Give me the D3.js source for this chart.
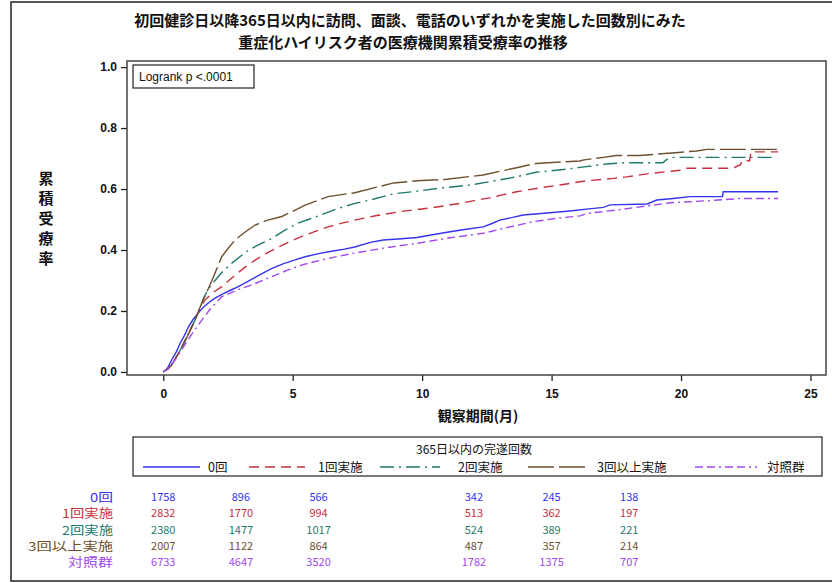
<!DOCTYPE html>
<html><head><meta charset="utf-8">
<script src="https://cdn.jsdelivr.net/npm/d3@7/dist/d3.min.js"></script>
<style>
body{margin:0;background:#fff;}
svg{display:block;}
</style></head>
<body>
<script>
// ---- data ----
const titleLines = ["初回健診日以降365日以内に訪問、面談、電話のいずれかを実施した回数別にみた","重症化ハイリスク者の医療機関累積受療率の推移"];
const groups = ["0回","1回実施","2回実施","3回以上実施","対照群"];
const xTicks = [0,5,10,15,20,25];
const yTicks = [0,0.2,0.4,0.6,0.8,1.0];
const series0 = [[0,0],[0.15,0.01],[0.33,0.04],[0.5,0.065],[0.66,0.095],[0.82,0.12],[0.98,0.149],[1.15,0.172],[1.35,0.193],[1.55,0.212],[1.74,0.226],[2.0,0.242],[2.3,0.256],[2.6,0.268],[2.9,0.28],[3.2,0.294],[3.5,0.308],[3.85,0.324],[4.2,0.34],[4.6,0.354],[5.0,0.365],[5.48,0.378],[6.0,0.388],[6.5,0.396],[7.0,0.403],[7.4,0.41],[8.0,0.425],[8.5,0.433],[9.2,0.437],[9.8,0.441],[10.4,0.45],[11.08,0.46],[11.7,0.468],[12.36,0.476],[12.7,0.487],[13.0,0.498],[13.5,0.507],[13.9,0.515],[14.94,0.522],[15.7,0.528],[16.36,0.534],[17.0,0.54],[17.26,0.548],[18.7,0.551],[19.06,0.564],[19.7,0.569],[20.35,0.575],[21.6,0.575],[21.63,0.591],[23.75,0.591]];
const series1 = [[0,0],[0.3,0.02],[0.66,0.072],[1.04,0.138],[1.2,0.165],[1.43,0.21],[1.6,0.235],[1.88,0.258],[2.26,0.28],[2.78,0.318],[3.15,0.343],[3.55,0.367],[4.0,0.39],[4.45,0.41],[4.95,0.43],[5.48,0.449],[5.9,0.462],[6.37,0.476],[6.9,0.488],[7.4,0.498],[8.25,0.513],[9.15,0.526],[10.4,0.539],[11.47,0.553],[12.0,0.562],[12.6,0.571],[13.1,0.581],[13.65,0.591],[14.56,0.604],[15.45,0.615],[16.1,0.624],[16.36,0.627],[17.4,0.635],[17.9,0.64],[18.8,0.651],[20.0,0.662],[20.2,0.668],[22.0,0.668],[22.3,0.68],[22.35,0.693],[22.65,0.693],[22.7,0.722],[23.75,0.722]];
const series2 = [[0,0],[0.3,0.02],[0.66,0.072],[1.04,0.138],[1.2,0.165],[1.43,0.214],[1.6,0.25],[1.81,0.28],[2.0,0.30],[2.3,0.33],[2.65,0.357],[3.3,0.40],[3.75,0.42],[4.2,0.438],[4.7,0.465],[5.2,0.488],[6.1,0.515],[6.7,0.535],[7.4,0.553],[8.0,0.564],[8.88,0.584],[9.8,0.593],[10.8,0.604],[11.85,0.613],[13.0,0.63],[13.65,0.64],[14.4,0.655],[15.45,0.664],[16.1,0.671],[17.1,0.682],[17.8,0.686],[19.3,0.686],[19.45,0.697],[19.7,0.704],[23.6,0.704]];
const series3 = [[0,0],[0.3,0.02],[0.66,0.07],[1.04,0.135],[1.2,0.165],[1.43,0.214],[1.62,0.25],[1.93,0.31],[2.26,0.378],[2.5,0.405],[2.78,0.433],[3.1,0.455],[3.55,0.482],[4.0,0.497],[4.58,0.51],[5.0,0.527],[5.48,0.547],[6.37,0.575],[7.4,0.588],[8.9,0.62],[9.8,0.627],[10.95,0.632],[12.36,0.646],[13.0,0.658],[13.65,0.67],[14.4,0.684],[16.1,0.692],[16.2,0.695],[17.0,0.704],[17.5,0.71],[18.4,0.71],[19.9,0.72],[20.6,0.725],[21.0,0.73],[23.9,0.73]];
const series4 = [[0,0],[0.2,0.01],[0.46,0.04],[0.8,0.085],[1.15,0.13],[1.49,0.17],[1.8,0.205],[2.26,0.247],[2.9,0.27],[3.55,0.29],[4.2,0.313],[4.8,0.334],[5.4,0.352],[6.1,0.367],[6.8,0.38],[7.4,0.39],[8.5,0.406],[9.8,0.422],[11.08,0.44],[12.36,0.455],[13.4,0.476],[14.3,0.493],[15.2,0.504],[16.1,0.512],[16.36,0.52],[17.5,0.531],[18.9,0.547],[19.6,0.555],[21.1,0.562],[22.3,0.569],[23.75,0.569]];
const riskTimes = [0,3,6,12,15,18];
const risk0 = [1758,896,566,342,245,138];
const risk1 = [2832,1770,994,513,362,197];
const risk2 = [2380,1477,1017,524,389,221];
const risk3 = [2007,1122,864,487,357,214];
const risk4 = [6733,4647,3520,1782,1375,707];

// ---- styles ----
const colors = ["#3434ee","#c8303e","#1f7a6c","#6e5030","#a146f2"];
const dashes = [null,"10,6","14,5,2,5","26,5","8,4,8,4,2,4"];
const labelWidths = [23,51,51,85,45];
const allSeries = [series0,series1,series2,series3,series4];
const allRisk = [risk0,risk1,risk2,risk3,risk4];
const jp = "'Noto Sans CJK JP','Noto Sans',sans-serif";

const W=832,H=583;
const svg = d3.select("body").append("svg").attr("width",W).attr("height",H);
svg.append("rect").attr("x",0).attr("y",0).attr("width",W).attr("height",H).attr("fill","#fff");
svg.append("rect").attr("x",11).attr("y",2).attr("width",W+10).attr("height",579)
  .attr("fill","none").attr("stroke","#222").attr("stroke-width",1.5);

const titleX = [410,403];
svg.selectAll("text.title").data(titleLines).enter().append("text")
  .attr("x",(d,i)=>titleX[i]).attr("y",(d,i)=>26+i*22).attr("text-anchor","middle")
  .attr("font-family",jp).attr("font-weight","bold").attr("font-size",15)
  .attr("fill","#111").text(d=>d);

const x = d3.scaleLinear().domain([-1.4,25.6]).range([127,826]);
const y = d3.scaleLinear().domain([-0.01,1.02]).range([375,61]);

const gx = svg.append("g").attr("transform","translate(0,375)")
  .call(d3.axisBottom(x).tickValues(xTicks).tickSize(6).tickPadding(8).tickFormat(d3.format("d")));
const gy = svg.append("g").attr("transform","translate(127,0)")
  .call(d3.axisLeft(y).tickValues(yTicks).tickSize(6).tickPadding(4).tickFormat(d3.format(".1f")));
[gx,gy].forEach(g=>{
  g.select(".domain").remove();
  g.selectAll("line").attr("stroke","#222").attr("stroke-width",1.3);
  g.selectAll("text").attr("font-family","'Liberation Sans',Arial,sans-serif")
   .attr("font-weight","bold").attr("font-size",12).attr("fill","#111");
});
svg.append("rect").attr("x",127).attr("y",61).attr("width",699).attr("height",314)
  .attr("fill","none").attr("stroke","#444").attr("stroke-width",1.5);

svg.append("rect").attr("x",133).attr("y",65).attr("width",121).attr("height",23)
  .attr("fill","#fff").attr("stroke","#222").attr("stroke-width",1.2);
svg.append("text").attr("x",139).attr("y",81).attr("font-family","'Liberation Sans',Arial,sans-serif")
  .attr("font-size",12).attr("fill","#111").text("Logrank p <.0001");

const line = d3.line().x(d=>x(d[0])).y(d=>y(d[1])).curve(d3.curveLinear);
allSeries.forEach((s,i)=>{
  svg.append("path").datum(s).attr("d",line).attr("fill","none")
    .attr("stroke",colors[i]).attr("stroke-width",1.4)
    .attr("stroke-dasharray",dashes[i]);
});

const ylab = "累積受療率".split("");
svg.selectAll("text.ylab").data(ylab).enter().append("text")
  .attr("x",46).attr("y",(d,i)=>184+i*20).attr("text-anchor","middle")
  .attr("font-family",jp).attr("font-weight","bold").attr("font-size",15).attr("fill","#111").text(d=>d);
svg.append("text").attr("x",478).attr("y",421).attr("text-anchor","middle")
  .attr("font-family",jp).attr("font-weight","bold").attr("font-size",14).attr("fill","#111").text("観察期間(月)");

svg.append("rect").attr("x",133).attr("y",437).attr("width",689).attr("height",39)
  .attr("fill","#fff").attr("stroke","#222").attr("stroke-width",1.2);
svg.append("text").attr("x",474).attr("y",453.5).attr("text-anchor","middle")
  .attr("font-family",jp).attr("font-size",12).attr("fill","#111").text("365日以内の完遂回数");
const legLine = [[143,200],[249,305],[380,440],[528,585],[695,757]];
const legText = [208,318,458,597,767];
groups.forEach((g,i)=>{
  svg.append("line").attr("x1",legLine[i][0]).attr("x2",legLine[i][1]).attr("y1",467).attr("y2",467)
    .attr("stroke",colors[i]).attr("stroke-width",1.4).attr("stroke-dasharray",dashes[i]);
  svg.append("text").attr("x",legText[i]).attr("y",472).attr("font-family",jp).attr("font-size",12.5)
    .attr("fill","#111").text(g);
});

const rowY = [497,513,530,546,562];
groups.forEach((g,i)=>{
  svg.append("text").attr("x",113).attr("y",rowY[i]+4.5).attr("text-anchor","end")
    .attr("font-family",jp).attr("font-size",12).attr("fill",colors[i])
    .attr("textLength",labelWidths[i]).attr("lengthAdjust","spacingAndGlyphs").text(g);
  svg.selectAll(null).data(riskTimes).enter().append("text")
    .attr("x",d=>x(d)).attr("y",rowY[i]+4).attr("text-anchor","middle")
    .attr("font-family",jp).attr("font-size",11).attr("fill",colors[i])
    .text((d,j)=>allRisk[i][j]);
});
</script>
</body></html>
